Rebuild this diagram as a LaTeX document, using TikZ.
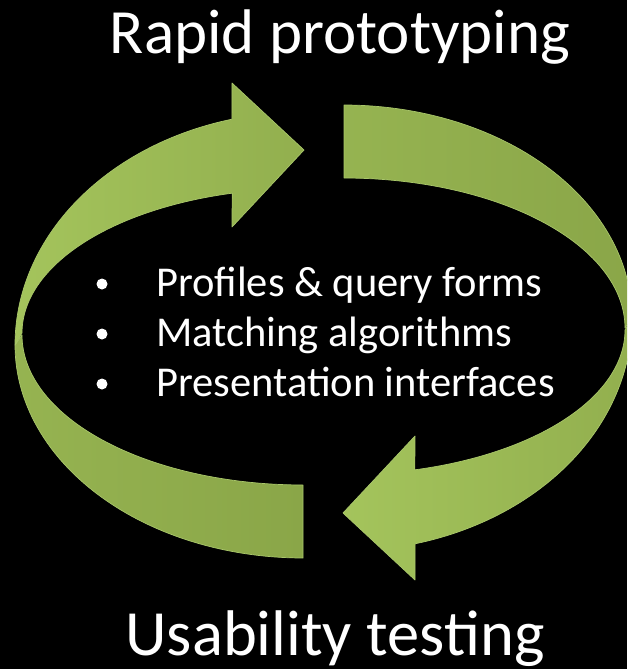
\documentclass[tikz,border=0pt]{standalone}
\usepackage{fontspec}
\setmainfont{Carlito}
\definecolor{gLight}{HTML}{A4C45C}
\definecolor{gMid}{HTML}{92AF4E}
\definecolor{gDark}{HTML}{8AA648}
\definecolor{gEdge}{HTML}{A9C76A}
\tikzset{
  band/.style={draw=gEdge, line width=0.7pt, line join=round},
  headband/.style={band, left color=gLight, right color=gMid},
  tailband/.style={band, left color=gMid!80!gLight, right color=gDark},
  titletext/.style={text=white, inner sep=0pt, anchor=base, font=\fontsize{63}{63}\selectfont},
  itemtext/.style={text=white, inner sep=0pt, anchor=base west, font=\fontsize{42.5}{42.5}\selectfont},
  bulletdot/.style={circle, fill=white, inner sep=0pt, minimum size=11pt},
}
\begin{document}
\begin{tikzpicture}[x=1pt,y=-1pt]
\useasboundingbox (0,0) rectangle (627,669);
\fill[black] (0,0) rectangle (627,669);
\begin{scope}
\clip (0,0) rectangle (627,669);
\foreach \rot in {0,180}{
\begin{scope}[rotate around={\rot:(323.5,331.5)}]
  \path[tailband] plot[domain=180:90, samples=60] ({303+288*cos(\x)},{345+213*sin(\x)})
     -- (303,485)
     -- plot[domain=90:180, samples=60] ({303+281*cos(\x)},{335+150*sin(\x)})
     -- cycle;
  \path[headband] plot[domain=180:255.7, samples=60] ({303+288*cos(\x)},{345+233*sin(\x)})
     -- (232,83) -- (304,150) -- (232,227)
     -- plot[domain=255.4:180, samples=60] ({303+281*cos(\x)},{333+144.5*sin(\x)})
     -- cycle;
\end{scope}
}
\end{scope}
\node[titletext] (top) at (340,53) {Rapid prototyping};
\node[titletext, font=\fontsize{64.5}{64.5}\selectfont] (bottom) at (335,655) {Usability testing};
\node[bulletdot] (b1) at (102,284) {};
\node[bulletdot] (b2) at (102,334) {};
\node[bulletdot] (b3) at (102,384) {};
\node[itemtext] (i1) at (156,296) {Profiles \& query forms};
\node[itemtext] (i2) at (156,346) {Matching algorithms};
\node[itemtext] (i3) at (156,396) {Presentation interfaces};
\end{tikzpicture}
\end{document}
